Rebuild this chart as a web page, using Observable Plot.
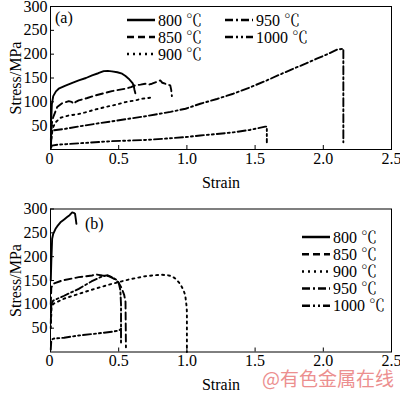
<!DOCTYPE html>
<html><head><meta charset="utf-8">
<script src="https://cdn.jsdelivr.net/npm/d3@7"></script>
<script src="https://cdn.jsdelivr.net/npm/@observablehq/plot@0.6"></script>
<style>
body{margin:0;background:#fff;}
#wrap{position:relative;width:400px;height:393px;overflow:hidden;}
#wrap > svg{display:block;overflow:visible;}
.overlay{position:absolute;left:0;top:0;pointer-events:none;}
</style></head><body><div id="wrap"></div>
<script>
const FONT = '"Liberation Serif","Times New Roman","Noto Serif CJK SC","Noto Sans CJK SC",serif';

// Legend / series labels
const temps = ["800 ℃", "850 ℃", "900 ℃", "950 ℃", "1000 ℃"];
const dashes = [null, "7,4", "2,4", "8,3,2,3", "8,3,2,3,2,3"];
const xTicks = [0.5, 1.0, 1.5, 2.0, 2.5];
const yTicks = [50, 100, 150, 200, 250, 300];

// Panel (a) : [strain, stress]
const a800 = [[0.003,20],[0.005,60],[0.01,95],[0.02,112],[0.04,122],[0.06,127.5],[0.11,134],[0.16,140],[0.207,145],[0.26,150],[0.305,155.5],[0.35,160],[0.39,164.5],[0.42,165],[0.45,164],[0.49,162],[0.525,159],[0.55,154],[0.573,148.5],[0.6,140],[0.61,134],[0.615,126],[0.622,118]];
const a850 = [[0.003,20],[0.01,55],[0.02,68],[0.049,89],[0.086,97],[0.134,101.5],[0.155,100],[0.17,96],[0.185,100],[0.207,103],[0.27,108],[0.33,113.5],[0.39,118],[0.45,122.5],[0.5,125],[0.55,127.5],[0.59,131],[0.62,134.5],[0.66,136],[0.695,138],[0.72,136],[0.744,138],[0.78,142],[0.805,145],[0.82,140],[0.84,138],[0.86,136],[0.878,134.5],[0.885,125],[0.89,112]];
const a900 = [[0.003,10],[0.01,35],[0.02,47],[0.037,57],[0.073,66.5],[0.134,71.5],[0.2,74],[0.256,78],[0.33,84],[0.4,89],[0.48,94],[0.55,99.5],[0.62,103],[0.67,106.5],[0.73,108.6]];
const a950 = [[0.003,10],[0.008,30],[0.015,40],[0.11,43.5],[0.2,48],[0.33,54],[0.45,59],[0.573,64.5],[0.68,69],[0.77,73.5],[0.88,79],[0.99,85.5],[1.098,96],[1.22,106],[1.34,117],[1.46,130],[1.586,145],[1.68,157],[1.78,169.5],[1.87,180],[1.952,190.5],[2.03,200],[2.10,209.5],[2.147,211.5],[2.147,15]];
const a1000 = [[0.003,3],[0.01,8],[0.05,10],[0.207,13],[0.45,17.5],[0.695,20],[0.85,23],[0.99,26],[1.098,29.5],[1.22,32.5],[1.34,36],[1.46,41],[1.574,48],[1.586,48],[1.586,15]];

// Panel (b)
const b800 = [[0.002,150],[0.006,190],[0.012,237.5],[0.02,248],[0.037,258.5],[0.05,264],[0.073,272],[0.1,278],[0.122,283],[0.14,287],[0.159,293],[0.17,292],[0.18,290],[0.185,280],[0.19,269]];
const b850 = [[0.002,100],[0.006,135],[0.02,143],[0.085,150],[0.207,157],[0.305,160.5],[0.33,163],[0.38,160.5],[0.427,159],[0.476,152],[0.5,145],[0.52,135],[0.54,120],[0.55,105],[0.553,10]];
const b900 = [[0.002,50],[0.008,95],[0.02,101],[0.1,112],[0.207,122],[0.33,133],[0.45,143],[0.573,152],[0.695,159],[0.76,161],[0.818,162],[0.86,161],[0.89,159],[0.92,153],[0.95,143],[0.975,130],[0.988,118.5],[0.998,95],[1.0,83.5],[1.0,0]];
const b950 = [[0.002,60],[0.006,100],[0.02,108],[0.1,118],[0.207,132.5],[0.3,148],[0.366,157],[0.4,160],[0.42,161],[0.45,157],[0.48,152],[0.5,145],[0.512,130],[0.517,100],[0.517,20]];
const b1000 = [[0.002,5],[0.006,25],[0.02,28],[0.1,30],[0.207,34.6],[0.3,37.5],[0.378,40],[0.45,42.5],[0.5,45],[0.515,48],[0.525,52]];

const seriesA = [a800, a850, a900, a950, a1000];
const seriesB = [b800, b850, b900, b950, b1000];

function panel(series, height, marginTop, marginBottom) {
  return Plot.plot({
    width: 400, height, marginTop, marginBottom, marginLeft: 50, marginRight: 9,
    style: {fontFamily: FONT, fontSize: "16px", color: "#000", background: "transparent", overflow: "visible"},
    x: {domain: [0, 2.5]},
    y: {domain: [0, 300]},
    marks: [
      ...series.map((s, i) => Plot.line(s, {x: d => d[0], y: d => d[1], stroke: "#000", strokeWidth: 1.9, strokeDasharray: dashes[i], strokeLinejoin: "round"})),
      Plot.frame({stroke: "#000", strokeWidth: 1}),
      Plot.axisX({ticks: xTicks, tickSize: 0, tickPadding: 3, tickFormat: d => d.toFixed(1), label: "Strain", labelAnchor: "center", labelArrow: "none", labelOffset: 38}),
      Plot.axisX({ticks: xTicks, tickSize: -4, tickFormat: () => "", label: null}),
      Plot.axisY({ticks: yTicks, tickSize: 0, tickPadding: 3, label: "Stress/MPa", labelAnchor: "center", labelArrow: "none", labelOffset: 41}),
      Plot.axisY({ticks: yTicks, tickSize: -4, tickFormat: () => "", label: null}),
      Plot.text(["0"], {frameAnchor: "bottom-left", dx: -5, dy: 3, lineAnchor: "top", text: d => d})
    ]
  });
}

const wrap = document.getElementById("wrap");
wrap.appendChild(panel(seriesA, 190, 6, 41));
wrap.appendChild(panel(seriesB, 203, 18.5, 41.5));

// Overlay: panel labels, legends, watermark
const ov = d3.create("svg").attr("class", "overlay").attr("width", 400).attr("height", 393)
  .style("font-family", FONT).style("font-size", "16px");
ov.append("text").attr("x", 55).attr("y", 17).attr("dy", "0.35em").text("(a)");
ov.append("text").attr("x", 85).attr("y", 223).attr("dy", "0.35em").text("(b)");

function legendItem(x1, x2, y, i) {
  ov.append("line").attr("x1", x1).attr("x2", x2).attr("y1", y).attr("y2", y)
    .attr("stroke", "#000").attr("stroke-width", 2.5).attr("stroke-dasharray", dashes[i]);
  ov.append("text").attr("x", x2 + 3).attr("y", y).attr("dy", "0.35em").text(temps[i]);
}
// (a) two columns
[0, 1, 2].forEach((i, k) => legendItem(127, 155, 20 + k * 17, i));
[3, 4].forEach((i, k) => legendItem(225, 253, 20 + k * 17, i));
// (b) one column
temps.forEach((t, i) => legendItem(302, 330, 237 + i * 17.2, i));

ov.append("text").attr("x", 262).attr("y", 386)
  .style("font-family", '"Noto Sans CJK SC",sans-serif').style("font-size", "19px")
  .attr("fill", "#ec8f8f").text("@有色金属在线");

wrap.appendChild(ov.node());
</script>
</body></html>
